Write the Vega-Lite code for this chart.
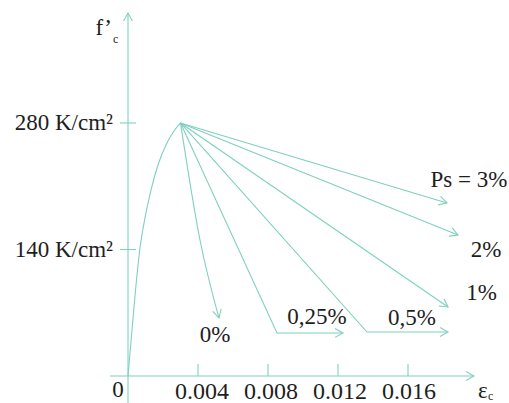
{
  "$schema": "https://vega.github.io/schema/vega-lite/v6.json",
  "width": 509,
  "height": 403,
  "padding": 0,
  "autosize": {"type": "none"},
  "background": "white",
  "config": {"view": {"stroke": null}},
  "datasets": {
    "curves": [
      {"s": "asc", "i": 0, "strain": 0, "stress": 0},
      {"s": "asc", "i": 1, "strain": 0.000229, "stress": 50.9},
      {"s": "asc", "i": 2, "strain": 0.000457, "stress": 100.7},
      {"s": "asc", "i": 3, "strain": 0.000686, "stress": 141.7},
      {"s": "asc", "i": 4, "strain": 0.000971, "stress": 174.9},
      {"s": "asc", "i": 5, "strain": 0.001314, "stress": 205.8},
      {"s": "asc", "i": 6, "strain": 0.001714, "stress": 233.5},
      {"s": "asc", "i": 7, "strain": 0.002171, "stress": 255.6},
      {"s": "asc", "i": 8, "strain": 0.002629, "stress": 271.1},
      {"s": "asc", "i": 9, "strain": 0.003, "stress": 280},
      {"s": "p0", "i": 0, "strain": 0.003, "stress": 280},
      {"s": "p0", "i": 1, "strain": 0.004114, "stress": 150.5},
      {"s": "p0", "i": 2, "strain": 0.0052, "stress": 64.2},
      {"s": "p025", "i": 0, "strain": 0.003, "stress": 280},
      {"s": "p025", "i": 1, "strain": 0.008514, "stress": 47.6},
      {"s": "p025", "i": 2, "strain": 0.012286, "stress": 47.6},
      {"s": "p05", "i": 0, "strain": 0.003, "stress": 280},
      {"s": "p05", "i": 1, "strain": 0.013657, "stress": 48.7},
      {"s": "p05", "i": 2, "strain": 0.018286, "stress": 48.7},
      {"s": "p1", "i": 0, "strain": 0.003, "stress": 280},
      {"s": "p1", "i": 1, "strain": 0.018286, "stress": 76.4},
      {"s": "p2", "i": 0, "strain": 0.003, "stress": 280},
      {"s": "p2", "i": 1, "strain": 0.018857, "stress": 156.0},
      {"s": "p3", "i": 0, "strain": 0.003, "stress": 280},
      {"s": "p3", "i": 1, "strain": 0.018229, "stress": 191.5}
    ],
    "rules": [
      {"strain": 0, "strain2": 0, "stress": -29.9, "stress2": 401.7},
      {"strain": -0.001029, "strain2": 0.019771, "stress": 0, "stress2": 0},
      {"strain": -0.00046, "strain2": 0.00046, "stress": 280, "stress2": 280},
      {"strain": -0.00046, "strain2": 0.00046, "stress": 140, "stress2": 140},
      {"strain": 0.004, "strain2": 0.004, "stress": 0, "stress2": 13.3},
      {"strain": 0.008, "strain2": 0.008, "stress": 0, "stress2": 13.3},
      {"strain": 0.012, "strain2": 0.012, "stress": 0, "stress2": 13.3},
      {"strain": 0.016, "strain2": 0.016, "stress": 0, "stress2": 13.3}
    ],
    "arrows": [
      {"strain": 0, "stress": 401.7, "dir": -90},
      {"strain": 0.019771, "stress": 0, "dir": 0},
      {"strain": 0.018229, "stress": 191.5, "dir": 16.7},
      {"strain": 0.018857, "stress": 156.0, "dir": 22},
      {"strain": 0.018286, "stress": 76.4, "dir": 34.5},
      {"strain": 0.018286, "stress": 48.7, "dir": 0},
      {"strain": 0.012286, "stress": 47.6, "dir": 0},
      {"strain": 0.0052, "stress": 64.2, "dir": 75}
    ],
    "centerLabels": [
      {"strain": 0.019486, "stress": 209.2, "text": "Ps = 3%"},
      {"strain": 0.020457, "stress": 131.7, "text": "2%"},
      {"strain": 0.0202, "stress": 84.1, "text": "1%"},
      {"strain": 0.016229, "stress": 56.4, "text": "0,5%"},
      {"strain": 0.0108, "stress": 57.5, "text": "0,25%"},
      {"strain": 0.004971, "stress": 37.6, "text": "0%"},
      {"strain": -0.000571, "stress": -23.2, "text": "0"}
    ],
    "tickLabels": [
      {"strain": 0.004229, "stress": -25.5, "text": "0.004"},
      {"strain": 0.008171, "stress": -25.5, "text": "0.008"},
      {"strain": 0.012114, "stress": -25.5, "text": "0.012"},
      {"strain": 0.016057, "stress": -25.5, "text": "0.016"}
    ],
    "rightLabels": [
      {"strain": -0.000857, "stress": 272.2, "text": "280 K/cm²"},
      {"strain": -0.000857, "stress": 132.2, "text": "140 K/cm²"},
      {"strain": -0.000914, "stress": 377.4, "text": "f’"}
    ],
    "leftLabels": [
      {"strain": 0.02, "stress": -24.3, "text": "ε"}
    ],
    "subs": [
      {"strain": -0.000857, "stress": 368.5, "text": "c"},
      {"strain": 0.020571, "stress": -26.6, "text": "c"}
    ]
  },
  "encoding": {
    "x": {"field": "strain", "type": "quantitative", "scale": {"domain": [-0.0073143, 0.0217714], "nice": false, "zero": false}, "axis": null},
    "y": {"field": "stress", "type": "quantitative", "scale": {"domain": [-29.88, 416.11], "nice": false, "zero": false}, "axis": null}
  },
  "layer": [
    {
      "data": {"name": "rules"},
      "mark": {"type": "rule", "color": "#7fd0c0", "strokeWidth": 1.1},
      "encoding": {"x2": {"field": "strain2"}, "y2": {"field": "stress2"}}
    },
    {
      "data": {"name": "curves"},
      "transform": [{"filter": "datum.s === 'asc' || datum.s === 'p0'"}],
      "mark": {"type": "line", "color": "#7fd0c0", "strokeWidth": 1.1, "interpolate": "monotone"},
      "encoding": {"detail": {"field": "s"}, "order": {"field": "i", "type": "quantitative"}}
    },
    {
      "data": {"name": "curves"},
      "transform": [{"filter": "datum.s !== 'asc' && datum.s !== 'p0'"}],
      "mark": {"type": "line", "color": "#7fd0c0", "strokeWidth": 1.1, "interpolate": "linear"},
      "encoding": {"detail": {"field": "s"}, "order": {"field": "i", "type": "quantitative"}}
    },
    {
      "data": {"name": "arrows"},
      "mark": {"type": "point", "shape": "M-1,-0.55L0,0L-1,0.55", "filled": false, "size": 256, "color": "#7fd0c0", "strokeWidth": 1.1, "opacity": 1},
      "encoding": {"angle": {"field": "dir", "type": "quantitative", "scale": null}}
    },
    {
      "data": {"name": "centerLabels"},
      "mark": {"type": "text", "align": "center", "baseline": "alphabetic", "font": "Liberation Serif", "fontSize": 23, "color": "#1e1e1e"},
      "encoding": {"text": {"field": "text"}}
    },
    {
      "data": {"name": "tickLabels"},
      "mark": {"type": "text", "align": "center", "baseline": "alphabetic", "font": "Liberation Serif", "fontSize": 24, "color": "#1e1e1e"},
      "encoding": {"text": {"field": "text"}}
    },
    {
      "data": {"name": "rightLabels"},
      "mark": {"type": "text", "align": "right", "baseline": "alphabetic", "font": "Liberation Serif", "fontSize": 23, "color": "#1e1e1e"},
      "encoding": {"text": {"field": "text"}}
    },
    {
      "data": {"name": "leftLabels"},
      "mark": {"type": "text", "align": "left", "baseline": "alphabetic", "font": "Liberation Serif", "fontSize": 23, "color": "#1e1e1e"},
      "encoding": {"text": {"field": "text"}}
    },
    {
      "data": {"name": "subs"},
      "mark": {"type": "text", "align": "left", "baseline": "alphabetic", "font": "Liberation Serif", "fontSize": 12, "color": "#1e1e1e"},
      "encoding": {"text": {"field": "text"}}
    }
  ]
}
